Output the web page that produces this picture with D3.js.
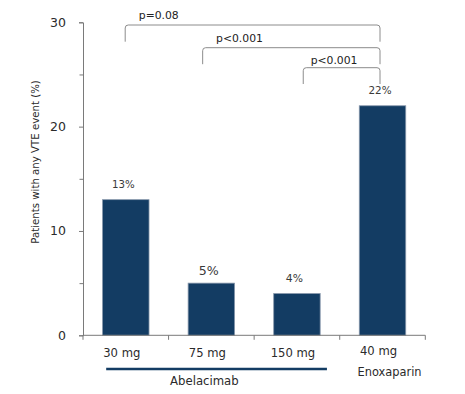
<!DOCTYPE html>
<html>
<head>
<meta charset="utf-8">
<script src="https://cdn.jsdelivr.net/npm/d3@7"></script>
<style>
  html, body { margin: 0; padding: 0; background: #fff; }
  svg { display: block; font-family: "DejaVu Sans", sans-serif; }
</style>
</head>
<body>
<svg id="chart" width="465" height="394"></svg>
<script>
// ---- data ----
const categories = ["30 mg", "75 mg", "150 mg", "40 mg"];
const values = [13, 5, 4, 22];
const valueLabels = ["13%", "5%", "4%", "22%"];
const yTicks = [0, 10, 20, 30];
const yMinorTicks = [5, 15, 25];
const groupNames = ["Abelacimab", "Enoxaparin"];
const compFrom = [0, 1, 2];
const compTo = [3, 3, 3];
const compLabels = ["p=0.08", "p<0.001", "p<0.001"];

// ---- layout ----
const svg = d3.select("#chart");
const x0 = 83, x1 = 425.3, yBottom = 335.3, yTop = 22.3;
const navy = "#133c63";
const textColor = "#2b2b2b";
const axisColor = "#7a7a7a";

const x = d3.scaleBand().domain(categories).range([x0, x1])
  .paddingInner(0.457).paddingOuter(0.2285);
const y = d3.scaleLinear().domain([0, 30]).range([yBottom, yTop]);

// y axis
const yAxis = d3.axisLeft(y).tickValues(yTicks).tickSize(4).tickPadding(13);
const gy = svg.append("g").attr("transform", `translate(${x0},0)`).call(yAxis);
gy.select(".domain").attr("stroke", axisColor);
gy.selectAll(".tick line").attr("stroke", axisColor);
gy.selectAll(".tick text").attr("fill", textColor).attr("font-size", 12.5)
  .attr("font-family", "DejaVu Sans");
const yMinor = d3.axisLeft(y).tickValues(yMinorTicks).tickSize(3.5).tickFormat("");
const gym = svg.append("g").attr("transform", `translate(${x0},0)`).call(yMinor);
gym.select(".domain").remove();
gym.selectAll(".tick line").attr("stroke", axisColor);

// y label
svg.append("text")
  .attr("transform", `translate(39,162) rotate(-90)`)
  .attr("text-anchor", "middle")
  .attr("font-size", 10.2)
  .attr("fill", textColor)
  .text("Patients with any VTE event (%)");

// bars
svg.append("g").selectAll("rect").data(values).join("rect")
  .attr("x", (d, i) => x(categories[i]))
  .attr("y", d => y(d))
  .attr("width", x.bandwidth())
  .attr("height", d => y(0) - y(d))
  .attr("fill", navy)
  .attr("stroke", "#8797ab")
  .attr("stroke-width", 0.8);

// x axis
const xAxis = d3.axisBottom(x).tickSize(0).tickPadding(0).tickFormat("");
const gx = svg.append("g").attr("transform", `translate(0,${yBottom})`).call(xAxis);
gx.select(".domain").attr("stroke", axisColor).attr("d", `M${x0},0H${x1}`);
// boundary ticks
const step = x.step();
const bounds = d3.range(categories.length + 1).map(i => x0 + i * step);
gx.selectAll(".bt").data(bounds).join("line").attr("class", "bt")
  .attr("x1", d => d).attr("x2", d => d).attr("y1", 0).attr("y2", 4.5)
  .attr("stroke", axisColor);

// x tick labels
const tickBase = [356.7, 356.7, 356.7, 354.7];
svg.append("g").selectAll("text").data(categories).join("text")
  .attr("x", d => x(d) + x.bandwidth() / 2 - 4)
  .attr("y", (d, i) => tickBase[i])
  .attr("text-anchor", "middle")
  .attr("font-size", 11.6)
  .attr("fill", textColor)
  .text(d => d);

// value labels
const vSize = [10.2, 12.6, 10.8, 10.4];
const vGap = [12, 8.5, 12, 12];
svg.append("g").selectAll("text").data(values).join("text")
  .attr("x", (d, i) => x(categories[i]) + x.bandwidth() / 2 - 2.5)
  .attr("y", (d, i) => y(d) - vGap[i])
  .attr("text-anchor", "middle")
  .attr("font-size", (d, i) => vSize[i])
  .attr("fill", "#3a3a3a")
  .text((d, i) => valueLabels[i]);

// group line and labels
const gLineX0 = x(categories[0]) + x.bandwidth() / 2 - 19.6;
const gLineX1 = x(categories[2]) + x.bandwidth() / 2 + 30;
svg.append("line")
  .attr("x1", gLineX0).attr("x2", gLineX1)
  .attr("y1", 369).attr("y2", 369)
  .attr("stroke", navy).attr("stroke-width", 2.6);
svg.append("text")
  .attr("x", (x(categories[1]) + x.bandwidth() / 2) - 7)
  .attr("y", 385)
  .attr("text-anchor", "middle").attr("font-size", 11.7).attr("fill", textColor)
  .text(groupNames[0]);
svg.append("text")
  .attr("x", x(categories[3]) + x.bandwidth() / 2 + 7)
  .attr("y", 375.7)
  .attr("text-anchor", "middle").attr("font-size", 11.4).attr("fill", textColor)
  .text(groupNames[1]);

// comparison brackets
const brTop = [25, 47.7, 67.7];
const legLen = [16.7, 16.5, 16.3];
const leftOff = [-0.6, -8.7, 6.3];
const rightOff = -2.5;
const labDx = [13.6, 13.4, 7.4];
const labDy = [-6.5, -6.2, -3.7];
const r = 3;
compLabels.forEach((lab, i) => {
  const xl = x(categories[compFrom[i]]) + x.bandwidth() / 2 + leftOff[i];
  const xr = x(categories[compTo[i]]) + x.bandwidth() / 2 + rightOff;
  const yt = brTop[i], yb = yt + legLen[i];
  const p = d3.path();
  p.moveTo(xl, yb);
  p.lineTo(xl, yt + r);
  p.quadraticCurveTo(xl, yt, xl + r, yt);
  p.lineTo(xr - r, yt);
  p.quadraticCurveTo(xr, yt, xr, yt + r);
  p.lineTo(xr, yb);
  svg.append("path").attr("d", p.toString())
    .attr("fill", "none").attr("stroke", "#8c8c8c").attr("stroke-width", 1);
  svg.append("text")
    .attr("x", xl + labDx[i]).attr("y", yt + labDy[i])
    .attr("font-size", 10.8).attr("fill", "#222")
    .text(lab);
});
</script>
</body>
</html>
